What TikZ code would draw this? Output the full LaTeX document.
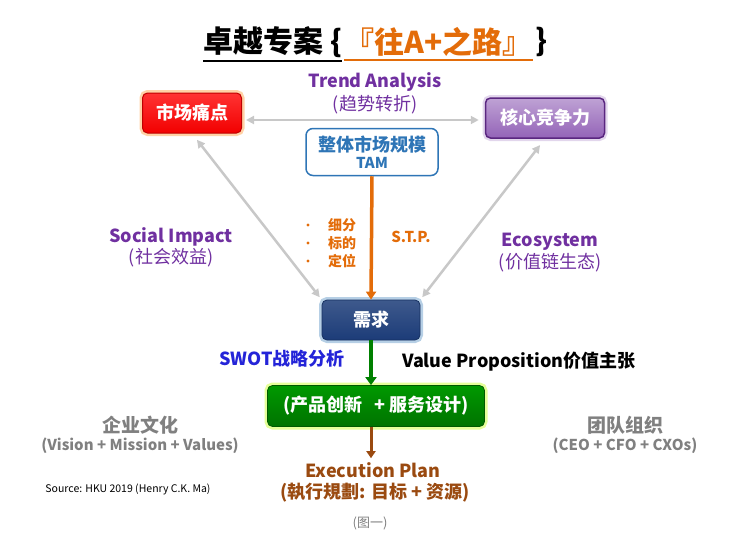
\documentclass[tikz,border=0pt]{standalone}
\usepackage{fontspec}
\setmainfont{Noto Sans CJK SC}
\usepackage{xcolor}
\usetikzlibrary{arrows.meta,positioning,calc}

\definecolor{trendpurple}{HTML}{7030A0}
\definecolor{stporange}{HTML}{E36C09}
\definecolor{planbrown}{HTML}{9A4A10}
\definecolor{swotblue}{HTML}{2424D8}
\definecolor{tamblue}{HTML}{2E75B6}
\definecolor{needblue}{HTML}{1C3C78}
\definecolor{softgray}{HTML}{808080}
\definecolor{linkgray}{HTML}{C8C8C8}

\tikzset{
  boxnode/.style={rounded corners=5pt, minimum height=40pt, text=white,
    font=\bfseries\fontsize{18}{20}\selectfont},
  painbox/.style={boxnode, minimum width=99pt, draw=red!75!black, line width=1pt,
    top color=red!80!white, bottom color=red!95!black,
    preaction={draw=orange!35, line width=6pt}},
  corebox/.style={boxnode, minimum width=119pt, draw=trendpurple!80!black, line width=1.5pt,
    top color=trendpurple!45, bottom color=trendpurple!75,
    preaction={draw=trendpurple!20, line width=6pt}},
  needbox/.style={boxnode, minimum width=98pt, draw=needblue!80!black, line width=0.8pt,
    top color=needblue!85!white, bottom color=needblue,
    preaction={draw=tamblue!35, line width=6pt}},
  prodbox/.style={boxnode, minimum width=217pt, minimum height=41pt, draw=green!35!black, line width=0.8pt,
    top color=green!60!black, bottom color=green!45!black,
    preaction={draw=green!25!yellow!40, line width=6pt}},
  purpletext/.style={text=trendpurple, align=center},
  graytext/.style={text=softgray, align=center},
  stpdot/.style={circle, fill=stporange, minimum size=3.2pt},
  linkarrow/.style={draw=linkgray, line width=2.5pt, {Triangle[width=8pt,length=8pt]}-{Triangle[width=8pt,length=8pt]}}
}

\begin{document}
\begin{tikzpicture}[x=1pt, y=-1pt, every node/.style={inner sep=0pt}]
\useasboundingbox (0,0) rectangle (740,549);

% Title
\node[anchor=west, font=\bfseries\fontsize{30}{32}\selectfont] (ttla) at (203,42) {卓越专案 \{};
\node[anchor=west, text=stporange, font=\bfseries\fontsize{30}{32}\selectfont] (ttlb) at ([xshift=2pt]ttla.east) {『往A+之路』};
\node[anchor=west, font=\bfseries\fontsize{30}{32}\selectfont] (ttlc) at ([xshift=3pt]ttlb.east) {\}};
\draw[line width=1.5pt] ([yshift=-3pt]ttla.south west) -- ([yshift=-3pt]ttla.south east);
\draw[line width=1.5pt, stporange] ([yshift=-3pt]ttlb.south west) -- ([yshift=-3pt]ttlb.south east);

% Top row
\node[painbox] (pain) at (192,113) {市场痛点};
\node[corebox] (core) at (545,118) {核心竞争力};
\node[purpletext, font=\bfseries\fontsize{18}{20}\selectfont] (trend) at (375,82) {Trend Analysis};
\node[purpletext, font=\fontsize{18}{20}\selectfont] (trendcn) at (375,105) {(趋势转折)};
\draw[linkarrow] ([yshift=-7pt]pain.east) ++(4pt,0) -- ([yshift=-2pt,xshift=-6pt]core.west);

% TAM box
\node[draw=tamblue, line width=1.5pt, fill=white, rounded corners=7pt, minimum width=132pt,
  minimum height=47pt, text=tamblue, align=center] (tam) at (372,152)
  {{\bfseries\fontsize{18}{20}\selectfont 整体市场规模}\\[3pt]{\bfseries\fontsize{15}{16}\selectfont TAM}};

% Middle: demand
\node[needbox] (need) at (371,320) {需求};
\draw[line width=3.5pt, stporange, -{Triangle[width=10pt,length=8pt]}] (tam.south) -- (need.north);
\draw[linkarrow, shorten <=8pt, shorten >=3pt] (pain.south) -- (need.north west);
\draw[linkarrow, shorten <=8pt, shorten >=3pt] (core.south) -- (need.north east);

% S.T.P.
\foreach \y/\txt in {225/细分, 243/标的, 261/定位} {
  \node[stpdot] at (308,\y) {};
  \node[text=stporange, font=\bfseries\fontsize{14}{16}\selectfont] at (342,\y) {\txt};
}
\node[text=stporange, font=\bfseries\fontsize{15}{16}\selectfont] (stp) at (411,237) {S.T.P.};

% Side labels
\node[purpletext, font=\bfseries\fontsize{18}{20}\selectfont] (social) at (171,237) {Social Impact};
\node[purpletext, font=\fontsize{18}{20}\selectfont] (socialcn) at (171,258) {(社会效益)};
\node[purpletext, font=\bfseries\fontsize{18}{20}\selectfont] (eco) at (550,242) {Ecosystem};
\node[purpletext, font=\fontsize{18}{20}\selectfont] (ecocn) at (550,263) {(价值链生态)};

% Lower: product
\node[prodbox] (prod) at (376,406) {(产品创新 \hspace{8pt}+ 服务设计)};
\draw[line width=4pt, green!50!black, -{Triangle[width=11pt,length=8pt]}] (need.south) -- (prod.north -| need.south);
\node[text=swotblue, font=\bfseries\fontsize{18}{20}\selectfont] (swot) at (282,359) {SWOT战略分析};
\node[font=\bfseries\fontsize{18}{20}\selectfont] (value) at (519,362) {Value Proposition价值主张};

% Execution plan
\node[text=planbrown, font=\bfseries\fontsize{18}{20}\selectfont] (exec) at (373,470) {Execution Plan};
\node[text=planbrown, font=\bfseries\fontsize{18}{20}\selectfont] (execcn) at (375,493) {(執行規劃: 目标 + 资源)};
\draw[line width=3pt, planbrown, -{Triangle[width=9pt,length=7pt]}] (prod.south -| need.south) -- ([yshift=4pt]exec.north -| need.south);

% Corner labels
\node[graytext, font=\bfseries\fontsize{19}{20}\selectfont] (culture) at (140,425) {企业文化};
\node[graytext, font=\bfseries\fontsize{15}{16}\selectfont] (culturesub) at (140,446) {(Vision + Mission + Values)};
\node[graytext, font=\bfseries\fontsize{19}{20}\selectfont] (team) at (625,425) {团队组织};
\node[graytext, font=\bfseries\fontsize{15}{16}\selectfont] (teamsub) at (625,446) {(CEO + CFO + CXOs)};
\node[font=\fontsize{10.5}{12}\selectfont] (src) at (128,489) {Source: HKU 2019 (Henry C.K. Ma)};
\node[graytext, font=\fontsize{13}{14}\selectfont] (fig) at (370,523) {(图一)};
\end{tikzpicture}
\end{document}
